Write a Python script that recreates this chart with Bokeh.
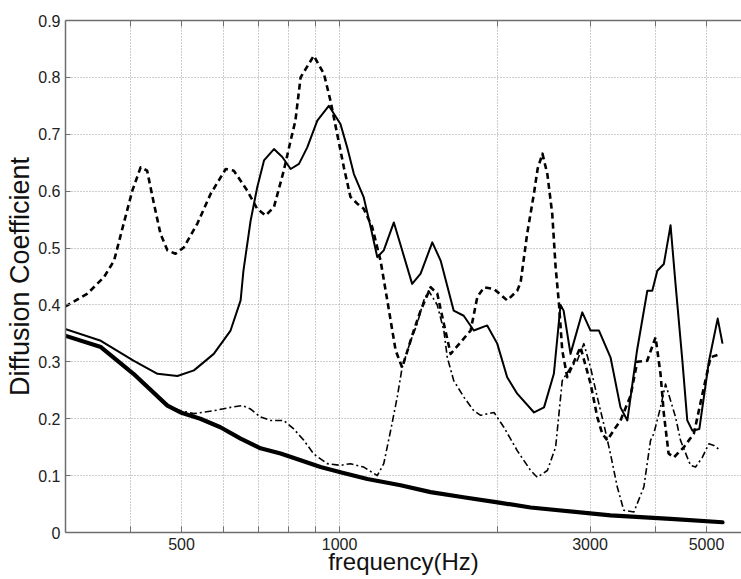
from bokeh.plotting import figure
from bokeh.models import FixedTicker, LogAxis, CustomJSTickFormatter
from bokeh.embed import file_html
from bokeh.resources import INLINE

# ---- data (frequency in Hz, diffusion coefficient) ----
a_freq = [300, 351, 405, 470, 498, 543, 593, 648, 707, 772, 843, 920, 1004, 1130, 1307,
          1491, 1722, 2000, 2312, 3282, 4271, 5364]
a_vals = [0.346, 0.326, 0.279, 0.223, 0.211, 0.2, 0.185, 0.165, 0.148, 0.139, 0.127, 0.115,
          0.106, 0.094, 0.083, 0.071, 0.062, 0.053, 0.044, 0.030, 0.024, 0.018]

b_freq = [300, 351, 405, 450, 491, 528, 576, 620, 648, 656, 677, 697, 718, 750, 778, 807, 837,
          868, 907, 954, 1004, 1034, 1065, 1112, 1146, 1180, 1214, 1269, 1316, 1375, 1427, 1502,
          1558, 1650, 1724, 1802, 1911, 1997, 2086, 2180, 2347, 2452, 2560, 2636, 2672, 2754,
          2900, 3007, 3120, 3282, 3429, 3534, 3687, 3857, 3942, 4030, 4147, 4271, 4365, 4498,
          4596, 4700, 4846, 5056, 5252, 5364]
b_vals = [0.358, 0.337, 0.302, 0.279, 0.275, 0.285, 0.314, 0.355, 0.408, 0.46, 0.548, 0.607,
          0.654, 0.674, 0.66, 0.639, 0.648, 0.677, 0.724, 0.75, 0.718, 0.677, 0.63, 0.589, 0.537,
          0.484, 0.496, 0.545, 0.496, 0.437, 0.455, 0.51, 0.478, 0.39, 0.381, 0.355, 0.364,
          0.332, 0.273, 0.244, 0.211, 0.22, 0.279, 0.40, 0.39, 0.314, 0.387, 0.355, 0.355,
          0.308, 0.22, 0.197, 0.32, 0.425, 0.425, 0.46, 0.472, 0.54, 0.437, 0.302, 0.197, 0.179,
          0.182, 0.302, 0.376, 0.332]

c_freq = [300, 331, 356, 372, 388, 403, 418, 430, 443, 456, 470, 487, 505, 536, 568, 607, 629,
          667, 697, 723, 750, 783, 807, 824, 843, 893, 934, 961, 990, 1019, 1049, 1081, 1112,
          1154, 1197, 1233, 1279, 1316, 1385, 1427, 1491, 1535, 1580, 1628, 1777, 1830, 1885,
          1969, 2086, 2180, 2213, 2277, 2345, 2385, 2435, 2488, 2542, 2580, 2618, 2656, 2715,
          2877, 3007, 3097, 3165, 3235, 3330, 3429, 3583, 3690, 3855, 3999, 4087, 4147, 4234,
          4333, 4528, 4731, 4943, 5090, 5318]
c_vals = [0.397, 0.42, 0.449, 0.478, 0.543, 0.601, 0.642, 0.636, 0.578, 0.525, 0.496, 0.49,
          0.501, 0.543, 0.595, 0.639, 0.636, 0.601, 0.569, 0.557, 0.572, 0.636, 0.689, 0.724,
          0.80, 0.838, 0.806, 0.759, 0.70, 0.642, 0.59, 0.578, 0.569, 0.537, 0.478, 0.408, 0.32,
          0.29, 0.355, 0.39, 0.431, 0.42, 0.367, 0.314, 0.355, 0.414, 0.431, 0.428, 0.408, 0.425,
          0.44, 0.525, 0.595, 0.64, 0.666, 0.63, 0.56, 0.466, 0.402, 0.32, 0.273, 0.326, 0.262,
          0.203, 0.174, 0.162, 0.18, 0.197, 0.24, 0.30, 0.302, 0.343, 0.279, 0.209, 0.139, 0.132,
          0.15, 0.174, 0.255, 0.308, 0.314]

d_freq = [300, 351, 405, 470, 498, 528, 576, 620, 653, 677, 707, 739, 783, 818, 855, 893, 947,
          1004, 1049, 1112, 1180, 1214, 1251, 1288, 1316, 1366, 1406, 1447, 1478, 1535, 1580,
          1604, 1650, 1725, 1802, 1857, 1969, 2056, 2180, 2312, 2380, 2488, 2580, 2618, 2656,
          2754, 2836, 2920, 3007, 3097, 3186, 3282, 3381, 3479, 3636, 3799, 3912, 3969, 4087,
          4178, 4271, 4365, 4462, 4596, 4662, 4766, 4909, 5052, 5164, 5318]
d_vals = [0.346, 0.326, 0.279, 0.223, 0.214, 0.209, 0.214, 0.22, 0.223, 0.217, 0.203, 0.197,
          0.197, 0.182, 0.162, 0.138, 0.121, 0.118, 0.121, 0.115, 0.10, 0.121, 0.179, 0.238,
          0.29, 0.337, 0.367, 0.408, 0.425, 0.40, 0.355, 0.308, 0.267, 0.238, 0.214, 0.206,
          0.211, 0.185, 0.144, 0.109, 0.097, 0.109, 0.15, 0.209, 0.267, 0.29, 0.302, 0.332,
          0.29, 0.238, 0.191, 0.138, 0.08, 0.039, 0.036, 0.08, 0.162, 0.174, 0.22, 0.261,
          0.232, 0.203, 0.162, 0.132, 0.118, 0.115, 0.132, 0.156, 0.153, 0.144]

x_ticks = [400, 500, 600, 700, 800, 900, 1000, 2000, 3000, 4000, 5000]
x_labeled = [500, 1000, 3000, 5000]
y_ticks = [0, 0.1, 0.2, 0.3, 0.4, 0.5, 0.6, 0.7, 0.8, 0.9]
x_title = "frequency(Hz)"
y_title = "Diffusion Coefficient"

FONT = "Liberation Sans"
AXIS_COLOR = "#6e6e6e"

p = figure(width=741, height=579, x_axis_type="log", x_range=(300.6, 5830), y_range=(0, 0.9),
           output_backend="svg", toolbar_location=None,
           min_border_left=65, min_border_right=0, min_border_top=20, min_border_bottom=47)
p.outline_line_color = None
p.background_fill_color = "white"
p.border_fill_color = "white"

xfmt = CustomJSTickFormatter(args=dict(lab=x_labeled),
                             code="return lab.includes(Math.round(tick)) ? String(Math.round(tick)) : '';")
xa = p.xaxis[0]
xa.ticker = FixedTicker(ticks=x_ticks)
xa.formatter = xfmt
xa.axis_label = x_title
xa.axis_label_text_font = FONT
xa.axis_label_text_font_style = "normal"
xa.axis_label_text_font_size = "24px"
xa.axis_label_text_color = "#111111"
xa.axis_label_standoff = -5
xa.major_label_text_font = FONT
xa.major_label_text_font_size = "16px"
xa.major_label_text_color = "#222222"
xa.major_label_standoff = 5
xa.major_tick_in = 6
xa.major_tick_out = 0
xa.minor_tick_in = 0
xa.minor_tick_out = 0
xa.axis_line_color = AXIS_COLOR
xa.major_tick_line_color = AXIS_COLOR
xa.axis_line_width = 1.5

top = LogAxis(ticker=FixedTicker(ticks=x_ticks),
              formatter=CustomJSTickFormatter(code="return '';"),
              major_tick_in=6, major_tick_out=0, minor_tick_in=0, minor_tick_out=0,
              major_label_standoff=0, major_label_text_font_size="1px",
              axis_line_color=AXIS_COLOR, major_tick_line_color=AXIS_COLOR, axis_line_width=1.5)
p.add_layout(top, "above")

ya = p.yaxis[0]
ya.ticker = FixedTicker(ticks=y_ticks)
ya.formatter = CustomJSTickFormatter(code="return tick < 1e-9 ? '0' : tick.toFixed(1);")
ya.axis_label = y_title
ya.axis_label_text_font = FONT
ya.axis_label_text_font_style = "normal"
ya.axis_label_text_font_size = "27px"
ya.axis_label_text_color = "#111111"
ya.axis_label_standoff = 0
ya.major_label_text_font = FONT
ya.major_label_text_font_size = "16px"
ya.major_label_text_color = "#222222"
ya.major_label_standoff = 5
ya.major_tick_in = 5
ya.major_tick_out = 0
ya.minor_tick_in = 0
ya.minor_tick_out = 0
ya.axis_line_color = AXIS_COLOR
ya.major_tick_line_color = AXIS_COLOR
ya.axis_line_width = 1.5

p.xgrid.ticker = FixedTicker(ticks=x_ticks)
p.ygrid.ticker = FixedTicker(ticks=y_ticks)
for g in (p.xgrid[0], p.ygrid[0]):
    g.grid_line_color = "#9a9a9a"
    g.grid_line_dash = "1 2"
    g.grid_line_width = 1
    g.minor_grid_line_color = None

p.line(d_freq, d_vals, line_color="black", line_width=1.6, line_dash="7 3 2 3",
       line_join="round")
p.line(c_freq, c_vals, line_color="black", line_width=2.6, line_dash="6 4",
       line_join="round")
p.line(b_freq, b_vals, line_color="black", line_width=2.0, line_join="round")
p.line(a_freq, a_vals, line_color="black", line_width=4.2, line_join="round",
       line_cap="round")

open("out.html", "w").write(file_html(p, INLINE))
